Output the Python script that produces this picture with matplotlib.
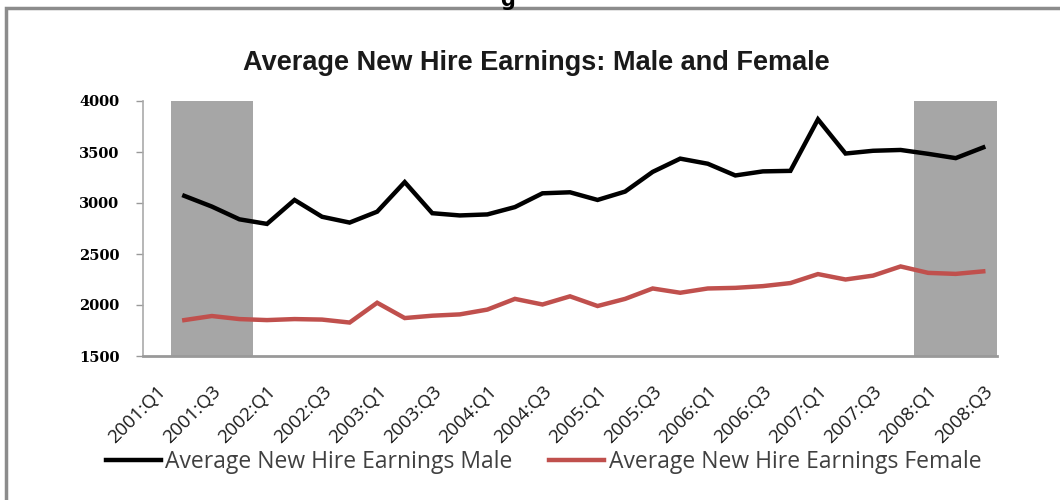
import matplotlib.pyplot as plt
from matplotlib.patches import Rectangle
import numpy as np

quarters = ["%d:Q%d" % (y, q) for y in range(2001, 2009) for q in range(1, 5)][:31]
male = [np.nan, 3070, 2965, 2840, 2795, 3030, 2865, 2808, 2915, 3205, 2900,
        2878, 2888, 2960, 3095, 3105, 3030, 3112, 3305, 3435, 3385, 3270,
        3310, 3315, 3820, 3485, 3512, 3520, 3482, 3440, 3545]
female = [np.nan, 1852, 1892, 1862, 1852, 1862, 1857, 1828, 2022, 1872, 1895,
          1908, 1955, 2060, 2005, 2085, 1990, 2060, 2162, 2120, 2162, 2168,
          2185, 2215, 2303, 2250, 2288, 2378, 2315, 2305, 2330]
recessions = [(1, 3), (28, 30)]  # first and last category index of each shaded span

x = np.arange(len(quarters))

fig = plt.figure(figsize=(10.6, 5.0), dpi=100)
ax = fig.add_axes([0.1349, 0.288, 0.8057, 0.51])

for a, b in recessions:
    ax.axvspan(a - 0.5, b + 0.5, color='#a6a6a6', lw=0, zorder=0)

l1, = ax.plot(x, male, color='black', lw=3.2, solid_joinstyle='miter', zorder=3)
l2, = ax.plot(x, female, color='#c0504d', lw=3.2, solid_joinstyle='miter', zorder=3)

ax.set_xlim(-0.5, len(quarters) - 0.5)
ax.set_ylim(1500, 4000)
ax.set_yticks(np.arange(1500, 4001, 500))
ax.set_xticks(x[::2])
ax.set_xticklabels(quarters[::2], rotation=45, ha='right', rotation_mode='anchor',
                   fontsize=13.5, family='Open Sans', color='#1a1a1a')
for lab in ax.get_yticklabels():
    lab.set_family('DejaVu Serif')
    lab.set_fontweight('bold')
    lab.set_fontsize(10.5)
ax.tick_params(axis='x', length=0, pad=19)
ax.tick_params(axis='y', length=5, width=1, color='#999999', pad=12)

for s in ['top', 'right']:
    ax.spines[s].set_visible(False)
ax.spines['left'].set_color('#aaaaaa')
ax.spines['left'].set_linewidth(1.2)
ax.spines['bottom'].set_color('#999999')
ax.spines['bottom'].set_linewidth(2)
ax.spines['bottom'].set_zorder(5)

fig.text(0.506, 0.875, "Average New Hire Earnings: Male and Female", ha='center', va='center',
         fontsize=19.5, fontweight='bold', family='Liberation Sans', color='#1a1a1a')

fig.legend([l1, l2], ["Average New Hire Earnings Male", "Average New Hire Earnings Female"],
           loc='center', bbox_to_anchor=(0.513, 0.075), ncol=2, frameon=False,
           prop={'family': 'Open Sans', 'size': 16.5}, handlelength=2.4, handletextpad=0.2,
           columnspacing=1.6, labelcolor='#404040')

# outer chart frame, running off the right and bottom edges
fig.patches.append(Rectangle((6 / 1060, -0.2), 1.2, 1.2 - 8 / 500, transform=fig.transFigure,
                             fill=False, edgecolor='#8c8c8c', lw=2.5, clip_on=False))
fig.text(0.479, 1.0, "g", ha='center', va='center', fontsize=15, fontweight='bold')

fig.savefig('out.png', dpi=100)
